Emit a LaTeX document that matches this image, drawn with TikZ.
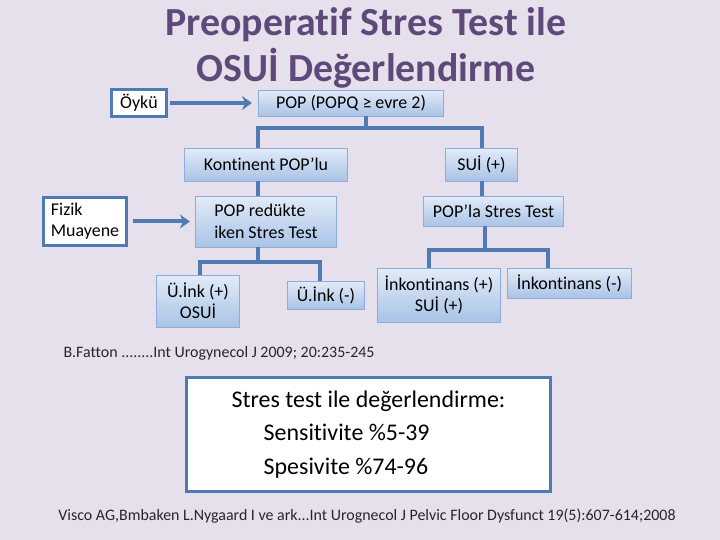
\documentclass[tikz,border=0pt]{standalone}
\usepackage{fontspec}
\setmainfont{Carlito}[Ligatures=NoCommon]
\usetikzlibrary{arrows.meta,positioning,calc}
\definecolor{bgc}{HTML}{E6E0EC}
\definecolor{titlec}{HTML}{5F497A}
\definecolor{linec}{HTML}{4F7AB3}
\definecolor{edgec}{HTML}{8FAADC}
\definecolor{topc}{HTML}{E2EBF8}
\definecolor{botc}{HTML}{A9C3E6}

\begin{document}
\begin{tikzpicture}[x=1bp,y=-1bp,
      box/.style={draw=edgec,line width=0.8bp,top color=topc,bottom color=botc,inner sep=0pt,align=center,font=\fontsize{18}{21.5}\selectfont},
      wbox/.style={draw=linec,line width=3bp,fill=white,inner sep=0pt,align=left,font=\fontsize{18}{21.5}\selectfont},
      conn/.style={draw=linec,line width=4bp},
      arr/.style={conn,-{Stealth[length=10bp,width=14bp]}},
      ref/.style={font=\fontsize{16}{18}\selectfont,text=black!85},
      >=Stealth]
    \fill[bgc] (0,0) rectangle (720,540);
    \useasboundingbox (0,0) rectangle (720,540);
    % title
    \node[font=\bfseries\fontsize{40}{46}\selectfont,text=titlec,align=center] (title) at (366,48) {Preoperatif Stres Test ile\\OSUİ Değerlendirme};
    % upper row
    \node[wbox,minimum width=55,minimum height=28] (oyku) at (139,103) {Öykü};
    \node[box,minimum width=186,minimum height=26] (pop) at (351,103) {POP (POPQ ≥ evre 2)};
    \node[box,minimum width=164,minimum height=33] (kont) at (266,164.5) {Kontinent POP’lu};
    \node[box,minimum width=73,minimum height=33] (sui) at (481.5,164.5) {SUİ (+)};
    % middle row
    \node[wbox,minimum width=83,minimum height=48] (fizik) at (85,221.5) {Fizik\\Muayene};
    \node[box,minimum width=142,minimum height=51,align=left] (redk) at (266,221.5) {POP redükte\\ iken Stres Test};
    \node[box,minimum width=141,minimum height=30] (popla) at (493.5,211) {POP’la Stres Test};
    % lower row
    \node[box,minimum width=84,minimum height=52] (uinkp) at (198,301) {Ü.İnk (+)\\OSUİ};
    \node[box,minimum width=78,minimum height=28] (uinkm) at (326,295) {Ü.İnk (-)};
    \node[box,minimum width=124,minimum height=54] (inkp) at (439,295) {İnkontinans (+)\\SUİ (+)};
    \node[box,minimum width=125,minimum height=30] (inkm) at (569.5,283) {İnkontinans (-)};
    % junctions
    \coordinate (ja) at (366,128);
    \coordinate (jb) at (258,262);
    \coordinate (jc) at (485,250);
    \draw[arr,shorten >=6bp,shorten <=2bp] (oyku) -- (pop);
    \draw[arr,shorten >=5bp,shorten <=5bp] (fizik) -- (redk);
    \draw[conn] (ja |- pop.south) -- (ja);
    \draw[conn] ([xshift=-8pt]kont.north) |- (ja) -| (sui.north);
    \draw[conn] ([xshift=-8pt]kont.south) -- ([xshift=-8pt]redk.north);
    \draw[conn] (sui.south) -- (sui.south |- popla.north);
    \draw[conn] (jb |- redk.south) -- (jb);
    \draw[conn] ([xshift=2pt]uinkp.north) |- (jb) -| ([xshift=-6pt]uinkm.north);
    \draw[conn] (jc |- popla.south) -- (jc);
    \draw[conn] ([xshift=-10pt]inkp.north) |- (jc) -| ([xshift=-22pt]inkm.north);
    % references
    \node[ref,anchor=west] (fatton) at (60,353) {B.Fatton ........Int Urogynecol J 2009; 20:235-245};
    \node[wbox,minimum width=366,minimum height=114,font=\fontsize{24}{34}\selectfont] (stres) at (368.5,434.5) {Stres test ile değerlendirme:\\\hspace*{32bp}Sensitivite \%5-39\\\hspace*{32bp}Spesivite \%74-96};
    \node[ref] (visco) at (367,516) {Visco AG,Bmbaken L.Nygaard I ve ark...Int Urognecol J Pelvic Floor Dysfunct 19(5):607-614;2008};
  \end{tikzpicture}
\end{document}
